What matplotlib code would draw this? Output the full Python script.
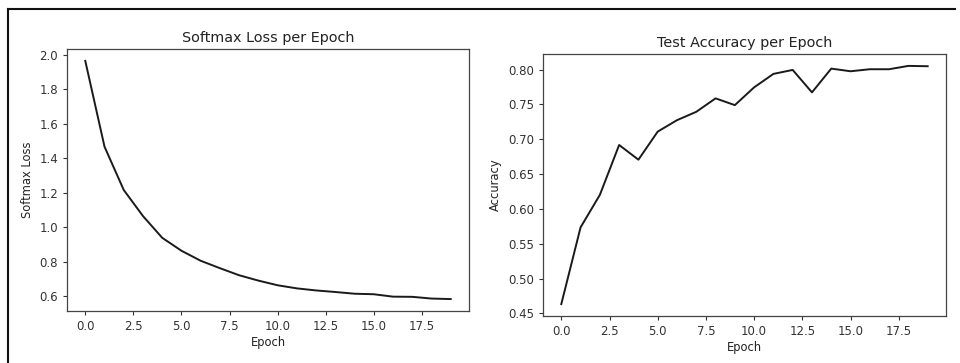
import matplotlib
matplotlib.use("Agg")
import matplotlib.pyplot as plt
from matplotlib.lines import Line2D

epochs = list(range(20))
softmax_loss = [1.965, 1.468, 1.217, 1.066, 0.940, 0.865, 0.807, 0.764, 0.723, 0.692,
                0.665, 0.647, 0.635, 0.626, 0.616, 0.613, 0.599, 0.598, 0.588, 0.585]
test_accuracy = [0.4635, 0.5736, 0.6202, 0.6918, 0.6707, 0.7110, 0.7274, 0.7394, 0.7587, 0.7490,
                 0.7745, 0.7938, 0.7995, 0.7673, 0.8014, 0.7976, 0.8005, 0.8005, 0.8053, 0.8048]

plt.rcParams['font.family'] = ['DejaVu Sans']
fig = plt.figure(figsize=(9.6, 3.63), dpi=100)

ax1 = fig.add_axes([0.0698, 0.1433, 0.4187, 0.7218])
ax2 = fig.add_axes([0.5656, 0.1295, 0.4198, 0.7218])

tick_fs = 8.5
label_fs = 8.3
title_fs = 10.4

ax1.plot(epochs, softmax_loss, color='#1a1a1a', linewidth=1.4)
ax1.set_title('Softmax Loss per Epoch', fontsize=title_fs, color='#222222', pad=5)
ax1.set_xlabel('Epoch', fontsize=label_fs, color='#222222', labelpad=2)
ax1.set_ylabel('Softmax Loss', fontsize=label_fs, color='#222222')

ax2.plot(epochs, test_accuracy, color='#1a1a1a', linewidth=1.4)
ax2.set_title('Test Accuracy per Epoch', fontsize=title_fs, color='#222222', pad=5)
ax2.set_xlabel('Epoch', fontsize=label_fs, color='#222222', labelpad=2)
ax2.set_ylabel('Accuracy', fontsize=label_fs, color='#222222')

for ax in (ax1, ax2):
    ax.tick_params(labelsize=tick_fs, colors='#333333', length=3, width=0.8)
    for s in ax.spines.values():
        s.set_color('#444444')
        s.set_linewidth(0.9)

# screenshot border
fig.add_artist(Line2D([8/960, 955/960], [1 - 9/363, 1 - 9/363], color='#111111', linewidth=1.5,
                      transform=fig.transFigure))
fig.add_artist(Line2D([8/960, 8/960], [1 - 9/363, 0], color='#111111', linewidth=1.5,
                      transform=fig.transFigure))

fig.savefig('out.png', dpi=100)
